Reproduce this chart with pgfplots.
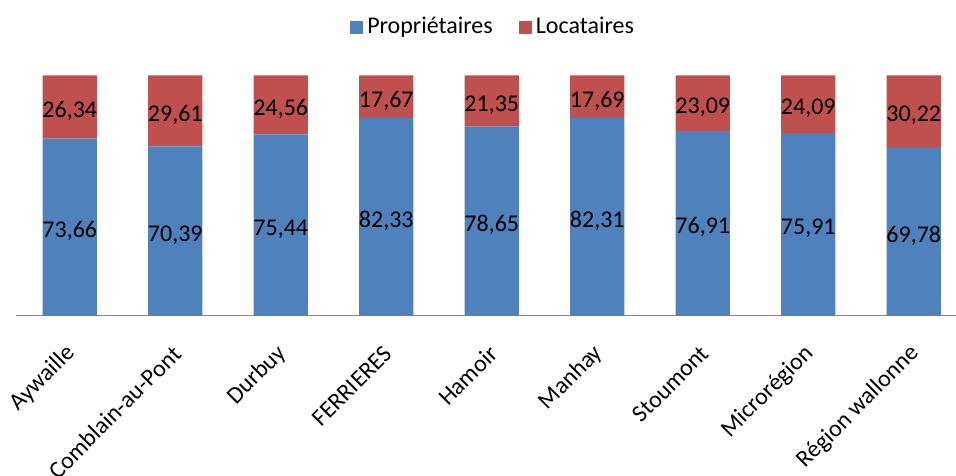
\documentclass[border=0pt]{standalone}
\usepackage{pgfplots}
\pgfplotsset{compat=1.18}
\usepackage{pgfplotstable}
\usepackage{fontspec}
\setmainfont{Carlito}

\definecolor{xlblue}{HTML}{4F81BD}
\definecolor{xlred}{HTML}{C0504D}
\definecolor{axisgray}{HTML}{868686}

% parts (%) of owners and tenants per commune
\pgfplotstableread{
x p l
0 73.66 26.34
1 70.39 29.61
2 75.44 24.56
3 82.33 17.67
4 78.65 21.35
5 82.31 17.69
6 76.91 23.09
7 75.91 24.09
8 69.78 30.22
}\parts

\begin{document}
\begin{tikzpicture}
\pgfplotsset{
  common/.style={
    scale only axis, width=470.2pt, height=120.2pt,
    at={(0pt,0pt)}, anchor=south west,
    xmin=-0.513, xmax=8.4, ymin=0, ymax=100,
  }
}
\begin{axis}[common,
  ybar stacked, bar width=27.15pt,
  axis x line*=bottom, axis y line=none,
  x axis line style={draw=axisgray, line width=0.8pt},
  xtick={0,...,8}, major tick length=0pt,
  xticklabels={Aywaille,Comblain-au-Pont,Durbuy,FERRIERES,Hamoir,Manhay,Stoumont,Microrégion,Région wallonne},
  xticklabel style={font=\fontsize{12}{14}\selectfont, anchor=east, inner sep=0pt, yshift=-17pt, xshift=1pt, rotate=45},
  legend columns=-1,
  legend style={at={(0.5087,1.2)}, anchor=center, draw=none, fill=none, font=\fontsize{12}{14}\selectfont},
  legend image code/.code={\path[#1, draw=none] (0pt,-3.3pt) rectangle (6.6pt,3.3pt);},
  /tikz/every even column/.append style={column sep=11pt},
]
\addplot[fill=xlblue, draw=none] table[x=x, y=p] {\parts};
\addlegendentry{Propriétaires}
\addplot[fill=xlred, draw=none] table[x=x, y=l] {\parts};
\addlegendentry{Locataires}
\end{axis}

% value labels centred in each segment
\begin{axis}[common, axis lines=none,
  nodes near coords, point meta=explicit,
  nodes near coords style={anchor=center, font=\fontsize{12}{14}\selectfont, yshift=-2pt},
  /pgf/number format/.cd, use comma, fixed, fixed zerofill, precision=2, assume math mode=true,
]
\addplot[draw=none] table[x=x, y expr=\thisrow{p}/2, meta=p] {\parts};
\addplot[draw=none] table[x=x, y expr=\thisrow{p}+\thisrow{l}/2, meta=l] {\parts};
\end{axis}
\pgfresetboundingbox
\path[use as bounding box] (-7.85pt,-80.15pt) rectangle (470.2pt,157.85pt);
\end{tikzpicture}
\end{document}
